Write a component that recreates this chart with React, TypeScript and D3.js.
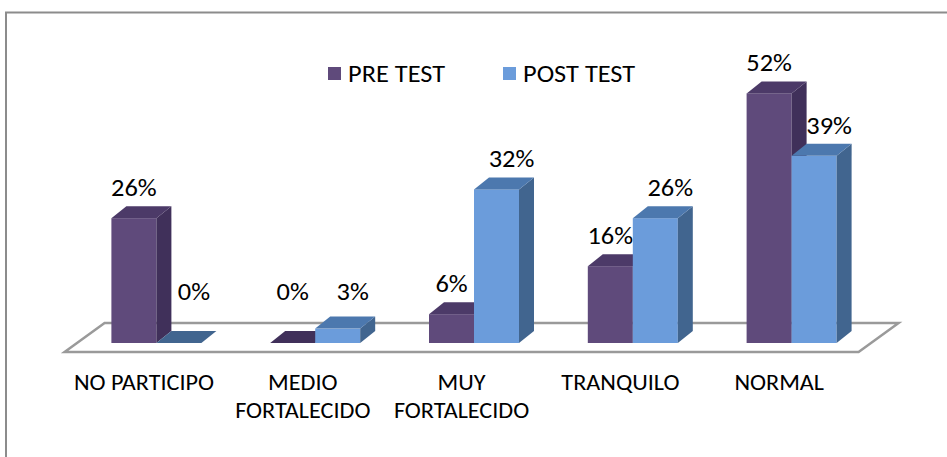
import { useEffect, useRef } from "react";
import * as d3 from "d3";

const categories = [
  ["NO PARTICIPO"],
  ["MEDIO", "FORTALECIDO"],
  ["MUY", "FORTALECIDO"],
  ["TRANQUILO"],
  ["NORMAL"],
];
const seriesNames = ["PRE TEST", "POST TEST"];
const preTest = [26, 0, 6, 16, 52];
const postTest = [0, 3, 32, 26, 39];

const colors = [
  { front: "#5f4a7b", side: "#40305a", top: "#4c3a68" },
  { front: "#6b9cdb", side: "#41658f", top: "#4c78ae" },
];

const FONT = "Carlito, 'Liberation Sans Narrow', 'Arial Narrow', 'Roboto Condensed', sans-serif";
const STRETCH = 1.1; // reference text is a bit wider than Carlito

export default function App() {
  const ref = useRef<SVGSVGElement>(null);
  const width = 947;
  const height = 457;

  useEffect(() => {
    if (!ref.current) return;
    const svg = d3.select(ref.current);
    svg.selectAll("*").remove();

    const label = (
      tx: number,
      ty: number,
      text: string,
      anchor: "start" | "middle" = "middle",
      size = 24
    ) =>
      svg
        .append("text")
        .attr("transform", `translate(${tx},${ty}) scale(${STRETCH},1)`)
        .attr("text-anchor", anchor)
        .style("font-family", FONT)
        .style("font-size", `${size}px`)
        .style("fill", "#000")
        .text(text);

    const base = 343; // front baseline of bars
    const depth = { dx: 15, dy: 12 };
    const floorSlope = 40 / 29;

    const x = d3
      .scaleBand<string>()
      .domain(categories.map((c) => c.join(" ")))
      .range([77, 871]);
    const inner = d3.scaleBand<string>().domain(seriesNames).range([0, 90]);
    const y = d3.scaleLinear().domain([0, 60]).range([base, base - 60 * 4.8]);

    // outer frame
    svg
      .append("rect")
      .attr("x", 6)
      .attr("y", 12.5)
      .attr("width", 1000)
      .attr("height", 1000)
      .attr("fill", "white")
      .attr("stroke", "#8c8c8c")
      .attr("stroke-width", 2);

    // floor
    const frontY = base + 9;
    const backY = frontY - 29;
    const shift = 9 * floorSlope;
    const [r0, r1] = x.range();
    const floor = [
      [r0 - shift, frontY],
      [r1 - shift, frontY],
      [r1 - shift + 40, backY],
      [r0 - shift + 40, backY],
    ];
    svg
      .append("polygon")
      .attr("points", floor.map((p) => p.join(",")).join(" "))
      .attr("fill", "white")
      .attr("stroke", "#9a9a9a")
      .attr("stroke-width", 2.5);

    const allSeries = [preTest, postTest];
    const bw = inner.bandwidth();
    const pad = (x.bandwidth() - 90) / 2;

    categories.forEach((cat, i) => {
      const key = cat.join(" ");
      allSeries.forEach((vals, s) => {
        const v = vals[i];
        const x0 = (x(key) ?? 0) + pad + (inner(seriesNames[s]) ?? 0);
        const yt = y(v);
        const c = colors[s];
        const g = svg.append("g");
        if (v > 0) {
          g.append("rect")
            .attr("x", x0)
            .attr("y", yt)
            .attr("width", bw)
            .attr("height", base - yt)
            .attr("fill", c.front);
          g.append("polygon")
            .attr(
              "points",
              [
                [x0 + bw, yt],
                [x0 + bw + depth.dx, yt - depth.dy],
                [x0 + bw + depth.dx, base - depth.dy],
                [x0 + bw, base],
              ]
                .map((p) => p.join(","))
                .join(" ")
            )
            .attr("fill", c.side);
        }
        g.append("polygon")
          .attr(
            "points",
            [
              [x0, yt],
              [x0 + depth.dx, yt - depth.dy],
              [x0 + bw + depth.dx, yt - depth.dy],
              [x0 + bw, yt],
            ]
              .map((p) => p.join(","))
              .join(" ")
          )
          .attr("fill", v > 0 ? c.top : c.side);

        // value label
        const lx = x0 + bw / 2 + (s === 1 ? 15 : 0);
        const ly = Math.min(yt - 22, base - 43);
        label(lx, ly, `${v}%`);
      });

      // category label
      const cx = (x(key) ?? 0) + x.bandwidth() / 2 - shift;
      cat.forEach((line, li) => label(cx, 390 + li * 28, line, "middle", 22));
    });

    // legend
    const legendX = [328, 503];
    seriesNames.forEach((name, s) => {
      svg
        .append("rect")
        .attr("x", legendX[s])
        .attr("y", 67)
        .attr("width", 13)
        .attr("height", 13)
        .attr("fill", colors[s].front);
      label(legendX[s] + 20, 82, name, "start");
    });
  }, []);

  return (
    <svg
      ref={ref}
      width={width}
      height={height}
      style={{ position: "absolute", left: 0, top: 0, background: "white" }}
    />
  );
}
